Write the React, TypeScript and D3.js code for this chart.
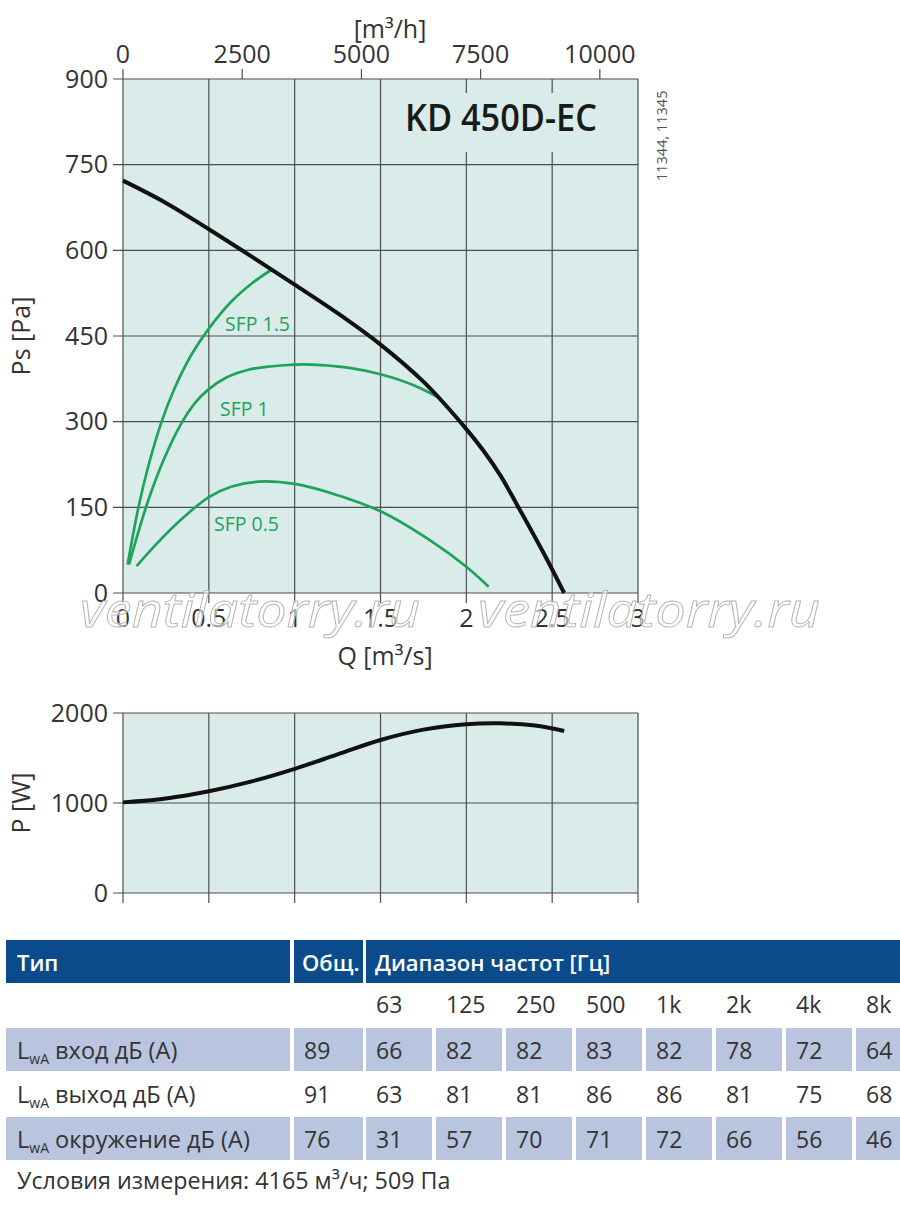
import React from 'react';
import * as d3 from 'd3';

// fan curve (static pressure) KD 450D-EC
const fanQ = [0, 0.25, 0.5, 0.75, 1.0, 1.25, 1.5, 1.75, 2.0, 2.1, 2.2, 2.3, 2.45, 2.57];
const fanPs = [722, 683, 637, 589, 540, 490, 435, 370, 287, 249, 205, 152, 70, 0];

// SFP curves
const sfp15Q = [0.027, 0.09, 0.15, 0.225, 0.3, 0.4, 0.5, 0.63, 0.75, 0.865];
const sfp15Ps = [50, 150, 225, 300, 358, 418, 463, 510, 542, 566];
const sfp1Q = [0.035, 0.147, 0.244, 0.34, 0.42, 0.5, 0.6, 0.73, 0.87, 1.0, 1.1, 1.3, 1.5, 1.7, 1.84];
const sfp1Ps = [50, 162, 238, 297, 333, 357, 377, 391, 397, 400, 400, 395, 383, 363, 342];
const sfp05Q = [0.079, 0.186, 0.34, 0.5, 0.63, 0.79, 1.0, 1.2, 1.5, 1.8, 2.0, 2.13];
const sfp05Ps = [47, 83, 129, 168, 186, 195, 191, 176, 143, 90, 46, 11];

// power consumption
const powQ = [0, 0.25, 0.5, 0.75, 1.0, 1.25, 1.5, 1.75, 2.0, 2.2, 2.4, 2.57];
const powW = [1007, 1050, 1130, 1240, 1380, 1540, 1700, 1815, 1875, 1885, 1860, 1800];

const qTicks = [0, 0.5, 1, 1.5, 2, 2.5, 3];
const qTickLabels = ['0', '0.5', '1', '1.5', '2', '2.5', '3'];
const psTicks = [0, 150, 300, 450, 600, 750, 900];
const m3hTicks = [0, 2500, 5000, 7500, 10000];
const powTicks = [0, 1000, 2000];

// sound table
const freqBands = ['63', '125', '250', '500', '1k', '2k', '4k', '8k'];
const rowLabels = ['вход дБ (А)', 'выход дБ (А)', 'окружение дБ (А)'];
const totals = [89, 91, 76];
const inletLw = [66, 82, 82, 83, 82, 78, 72, 64];
const outletLw = [63, 81, 81, 86, 86, 81, 75, 68];
const surroundLw = [31, 57, 70, 71, 72, 66, 56, 46];
const rowValues = [inletLw, outletLw, surroundLw];

const FONT = '"Open Sans", "Noto Sans", sans-serif';
const GRID = '#4d4d4d';
const BG = '#d9ecea';
const GREEN = '#1ea35a';
const TEXT = '#333';
const BLUE = '#0b4b8c';
const SHADE = '#b9c4de';

const zip = (a: number[], b: number[]) => a.map((v, i) => [v, b[i]] as [number, number]);

export default function App() {
  const x = d3.scaleLinear().domain([0, 3]).range([123, 638]);
  const y = d3.scaleLinear().domain([0, 900]).range([593, 79]);
  const xTop = d3.scaleLinear().domain([0, 3 * 3600]).range([123, 638]);
  const yP = d3.scaleLinear().domain([0, 2000]).range([893, 713]);

  const line = d3.line<[number, number]>()
    .x(d => x(d[0]))
    .y(d => y(d[1]))
    .curve(d3.curveCatmullRom.alpha(0.5));
  const powLine = d3.line<[number, number]>()
    .x(d => x(d[0]))
    .y(d => yP(d[1]))
    .curve(d3.curveCatmullRom.alpha(0.5));

  // table layout
  const colX = d3.scaleLinear().domain([0, 1]).range([366, 436]);
  const cellW = 66;
  const rowTop = [1028, 1072, 1117];
  const rowH = 43;

  return (
    <svg width={900} height={1205} style={{ position: 'absolute', left: 0, top: 0, background: '#fff' }}
      fontFamily={FONT}>
      {/* ---------- pressure chart ---------- */}
      <rect x={x(0)} y={y(900)} width={x(3) - x(0)} height={y(0) - y(900)} fill={BG} />
      {qTicks.map(t => (
        <line key={'vx' + t} x1={x(t)} x2={x(t)} y1={y(900)} y2={y(0) + 10} stroke={GRID} strokeWidth={1.2} />
      ))}
      {psTicks.map(t => (
        <line key={'hy' + t} x1={x(0) - 10} x2={x(3)} y1={y(t)} y2={y(t)} stroke={GRID} strokeWidth={1.2} />
      ))}
      {m3hTicks.map(t => (
        <line key={'tt' + t} x1={xTop(t)} x2={xTop(t)} y1={y(900)} y2={y(900) - 10} stroke={GRID} strokeWidth={1.2} />
      ))}
      {/* title box breaks the grid */}
      <rect x={396} y={93} width={205} height={59} fill={BG} />
      <text x={405} y={131} fontSize={37} fontWeight={600} fill="#1a1a1a" textLength={192} lengthAdjust="spacingAndGlyphs">KD 450D-EC</text>
      <text transform="translate(667,181) rotate(-90)" fontSize={14.5} fill="#555">11344, 11345</text>

      {psTicks.map(t => (
        <text key={'yl' + t} x={108} y={y(t)} dy="0.35em" textAnchor="end" fontSize={25} fill={TEXT}>{t}</text>
      ))}
      {qTicks.map((t, i) => (
        <text key={'xl' + t} x={x(t)} y={627} textAnchor="middle" fontSize={25} fill={TEXT}>{qTickLabels[i]}</text>
      ))}
      {m3hTicks.map(t => (
        <text key={'xt' + t} x={xTop(t)} y={63} textAnchor="middle" fontSize={25} fill={TEXT}>{t}</text>
      ))}
      <text x={390} y={38} textAnchor="middle" fontSize={25} fill={TEXT}>[m³/h]</text>
      <text x={385} y={665} textAnchor="middle" fontSize={25} fill={TEXT}>Q [m³/s]</text>
      <text transform={`translate(30,${y(450)}) rotate(-90)`} textAnchor="middle" fontSize={25} fill={TEXT}>Ps [Pa]</text>

      <path d={line(zip(sfp15Q, sfp15Ps)) || ''} fill="none" stroke={GREEN} strokeWidth={2.7} />
      <path d={line(zip(sfp1Q, sfp1Ps)) || ''} fill="none" stroke={GREEN} strokeWidth={2.7} />
      <path d={line(zip(sfp05Q, sfp05Ps)) || ''} fill="none" stroke={GREEN} strokeWidth={2.7} />
      <path d={line(zip(fanQ, fanPs)) || ''} fill="none" stroke="#111" strokeWidth={4} />
      <text x={225} y={331} fontSize={19.5} fill={GREEN}>SFP 1.5</text>
      <text x={220} y={416} fontSize={19.5} fill={GREEN}>SFP 1</text>
      <text x={214} y={531} fontSize={19.5} fill={GREEN}>SFP 0.5</text>

      {/* watermark */}
      <text x={80} y={627} fontSize={47} fontStyle="italic" fill="rgba(255,255,255,0.55)" stroke="#b5b5b5"
        strokeWidth={0.9} textLength={340} lengthAdjust="spacingAndGlyphs">ventilatorry.ru</text>
      <text x={478} y={627} fontSize={47} fontStyle="italic" fill="rgba(255,255,255,0.55)" stroke="#b5b5b5"
        strokeWidth={0.9} textLength={342} lengthAdjust="spacingAndGlyphs">ventilatorry.ru</text>

      {/* ---------- power chart ---------- */}
      <rect x={x(0)} y={yP(2000)} width={x(3) - x(0)} height={yP(0) - yP(2000)} fill={BG} />
      {qTicks.map(t => (
        <line key={'pvx' + t} x1={x(t)} x2={x(t)} y1={yP(2000)} y2={yP(0) + 10} stroke={GRID} strokeWidth={1.2} />
      ))}
      {powTicks.map(t => (
        <line key={'phy' + t} x1={x(0) - 10} x2={x(3)} y1={yP(t)} y2={yP(t)} stroke={GRID} strokeWidth={1.2} />
      ))}
      {powTicks.map(t => (
        <text key={'pyl' + t} x={108} y={yP(t)} dy="0.35em" textAnchor="end" fontSize={25} fill={TEXT}>{t}</text>
      ))}
      <text transform={`translate(30,${yP(1000)}) rotate(-90)`} textAnchor="middle" fontSize={25} fill={TEXT}>P [W]</text>
      <path d={powLine(zip(powQ, powW)) || ''} fill="none" stroke="#111" strokeWidth={4} />

      {/* ---------- sound table ---------- */}
      <rect x={6} y={940} width={284} height={43} fill={BLUE} />
      <rect x={294} y={940} width={69} height={43} fill={BLUE} />
      <rect x={366} y={940} width={534} height={43} fill={BLUE} />
      <text x={17} y={971} fontSize={22} fontWeight={600} fill="#fff">Тип</text>
      <text x={302} y={971} fontSize={22} fontWeight={600} fill="#fff">Общ.</text>
      <text x={375} y={971} fontSize={22} fontWeight={600} fill="#fff">Диапазон частот [Гц]</text>

      {freqBands.map((f, i) => (
        <text key={'fb' + f} x={colX(i) + 10} y={1013} fontSize={23} fill={TEXT}>{f}</text>
      ))}

      {rowLabels.map((lab, r) => (
        <g key={'row' + r}>
          {r !== 1 && (
            <>
              <rect x={6} y={rowTop[r]} width={284} height={rowH} fill={SHADE} />
              <rect x={294} y={rowTop[r]} width={69} height={rowH} fill={SHADE} />
              {rowValues[r].map((_, i) => (
                <rect key={'c' + i} x={colX(i)} y={rowTop[r]} width={Math.min(cellW, 900 - colX(i))} height={rowH} fill={SHADE} />
              ))}
            </>
          )}
          <text x={17} y={rowTop[r] + 31} fontSize={23.5} fill={TEXT}>
            L<tspan fontSize={14} dy={5}>wA</tspan><tspan dy={-5}> {lab}</tspan>
          </text>
          <text x={304} y={rowTop[r] + 31} fontSize={23} fill={TEXT}>{totals[r]}</text>
          {rowValues[r].map((v, i) => (
            <text key={'v' + i} x={colX(i) + 10} y={rowTop[r] + 31} fontSize={23} fill={TEXT}>{v}</text>
          ))}
        </g>
      ))}

      <text x={17} y={1189} fontSize={23.3} fill={TEXT}>Условия измерения: 4165 м³/ч; 509 Па</text>
    </svg>
  );
}
